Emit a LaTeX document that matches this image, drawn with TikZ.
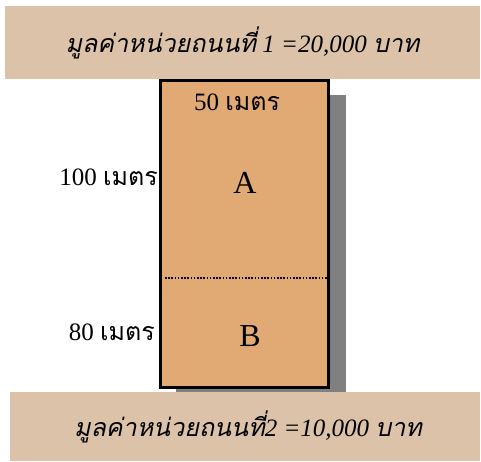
\documentclass[tikz,border=0pt]{standalone}
\usepackage{fontspec}
\setmainfont{Liberation Serif}
\newfontfamily\thaifont[Script=Thai]{Loma}
\usetikzlibrary{positioning}
\definecolor{bannerbg}{RGB}{219,194,169}
\definecolor{plotbg}{RGB}{225,170,116}
\definecolor{shadowgray}{RGB}{128,128,128}

\begin{document}
\begin{tikzpicture}[x=1pt,y=-1pt]
	 \tikzstyle{banner}=[rectangle,fill=bannerbg,inner sep=0pt,font=\fontsize{25}{28}\selectfont\itshape]
	 \tikzstyle{plot}=[rectangle,draw=black,line width=3pt,fill=plotbg,inner sep=0pt]
	 \tikzstyle{label}=[inner sep=0pt,font=\fontsize{25}{27}\selectfont]
	 \tikzstyle{part}=[inner sep=0pt,font=\fontsize{32}{34}\selectfont]
	 \useasboundingbox (0,0) rectangle (481,461);
	 \fill[shadowgray] (176,95) rectangle (346,392);
	 \node[plot,minimum width=168pt,minimum height=307pt] (land) at (244.5,234) {};
	 \node[banner,minimum width=475pt,minimum height=73pt] (top) at (242.5,42.5)
	   {{\thaifont มูลค่าหน่วยถนนที่} 1 =20,000 {\thaifont บาท}};
	 \node[banner,minimum width=470pt,minimum height=69pt] (bottom) at (245,426.5)
	   {\hspace{6pt}{\thaifont มูลค่าหน่วยถนนที่}2 =10,000 {\thaifont บาท}};
	 \node[label] (width) at (237,102) {50 {\thaifont เมตร}};
	 \node[label,anchor=east] (depthA) at (158,177) {100 {\thaifont เมตร}};
	 \node[label,anchor=east] (depthB) at (155,332) {80 {\thaifont เมตร}};
	 \node[part] (partA) at (245,183) {A};
	 \node[part] (partB) at (250,336) {B};
	 \coordinate (d1) at (165,278);
	 \coordinate (d2) at (327,278);
	 \draw[line width=1.6pt,dash pattern=on 1.6pt off 1.6pt] (d1) -- (d2);
 \end{tikzpicture}
\end{document}
